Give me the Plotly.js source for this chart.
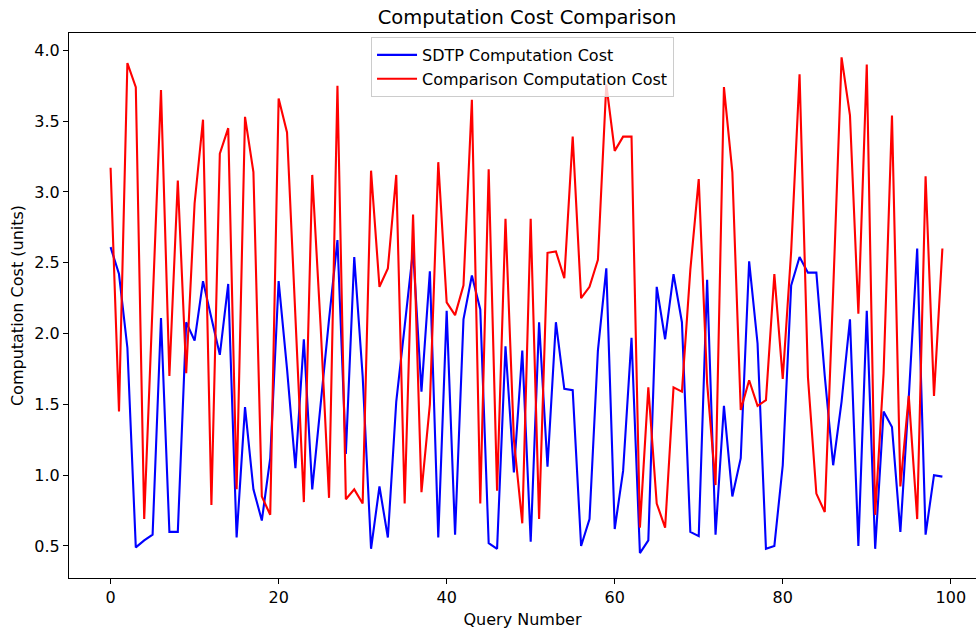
<!DOCTYPE html>
<html>
<head>
<meta charset="utf-8">
<script src="https://cdn.plot.ly/plotly-3.0.1.min.js"></script>
<style>html,body{margin:0;padding:0;background:#fff;}#chart{width:976px;height:629px;}</style>
</head>
<body>
<div id="chart"></div>
<script>
const queryNumbers = Array.from({length: 100}, (_, i) => i);

const sdtpCost = [
  2.61, 2.42, 1.90, 0.49, 0.54, 0.58, 2.11, 0.60, 0.60, 2.08,
  1.95, 2.37, 2.11, 1.85, 2.35, 0.56, 1.48, 0.90, 0.68, 1.12,
  2.37, 1.75, 1.05, 1.96, 0.90, 1.52, 2.10, 2.66, 1.15, 2.54,
  1.70, 0.48, 0.92, 0.56, 1.52, 2.05, 2.59, 1.59, 2.44, 0.56,
  2.16, 0.58, 2.10, 2.41, 2.17, 0.52, 0.48, 1.91, 1.02, 1.88,
  0.53, 2.08, 1.06, 2.08, 1.61, 1.60, 0.50, 0.69, 1.88, 2.46,
  0.62, 1.03, 1.97, 0.45, 0.54, 2.33, 1.96, 2.42, 2.08, 0.60,
  0.57, 2.38, 0.58, 1.49, 0.85, 1.12, 2.51, 1.93, 0.48, 0.50,
  1.07, 2.34, 2.54, 2.43, 2.43, 1.70, 1.07, 1.52, 2.10, 0.50,
  2.16, 0.48, 1.45, 1.34, 0.60, 1.55, 2.60, 0.58, 1.00, 0.99
];

const comparisonCost = [
  3.17, 1.45, 3.91, 3.74, 0.69, 2.22, 3.72, 1.70, 3.08, 1.72,
  2.92, 3.51, 0.79, 3.27, 3.45, 0.90, 3.53, 3.14, 0.85, 0.72,
  3.66, 3.42, 2.15, 0.81, 3.12, 2.05, 0.84, 3.75, 0.83, 0.90,
  0.80, 3.15, 2.33, 2.46, 3.12, 0.80, 2.84, 0.88, 1.50, 3.21,
  2.22, 2.13, 2.34, 3.65, 0.80, 3.16, 0.89, 2.81, 1.25, 0.66,
  2.81, 0.69, 2.57, 2.58, 2.39, 3.39, 2.25, 2.33, 2.52, 3.76,
  3.29, 3.39, 3.39, 0.63, 1.62, 0.80, 0.63, 1.62, 1.59, 2.45,
  3.09, 1.65, 0.93, 3.74, 3.14, 1.46, 1.67, 1.49, 1.53, 2.42,
  1.68, 2.58, 3.83, 1.69, 0.87, 0.74, 2.30, 3.95, 3.54, 2.14,
  3.90, 0.72, 1.72, 3.54, 0.92, 1.56, 0.69, 3.11, 1.56, 2.60
];

const seriesNames = ["SDTP Computation Cost", "Comparison Computation Cost"];
const seriesColors = ["#0000ff", "#ff0000"];
const yTicks = [0.5, 1.0, 1.5, 2.0, 2.5, 3.0, 3.5, 4.0];
const xTicks = [0, 20, 40, 60, 80, 100];

const FONT = "DejaVu Sans, sans-serif";
const FS = 16;

const traces = [sdtpCost, comparisonCost].map((vals, k) => ({
  x: queryNumbers,
  y: vals,
  type: "scatter",
  mode: "lines",
  name: seriesNames[k],
  line: {color: seriesColors[k], width: 2.1}
}));

const layout = {
  width: 976,
  height: 629,
  margin: {l: 69, r: 0, t: 33, b: 51},
  paper_bgcolor: "#ffffff",
  plot_bgcolor: "#ffffff",
  font: {family: FONT, size: FS, color: "#000"},
  title: {text: "Computation Cost Comparison", font: {family: FONT, size: 19.5, color: "#000"},
          x: 0.54, xanchor: "center", y: 0.972, yanchor: "middle"},
  xaxis: {
    range: [-4.95, 103.0],
    tickvals: xTicks,
    ticktext: xTicks.map(String),
    ticks: "outside", ticklen: 5, tickwidth: 1, tickcolor: "#000",
    showgrid: false, zeroline: false,
    showline: true, linecolor: "#000", linewidth: 1, mirror: true,
    tickfont: {family: FONT, size: FS, color: "#000"},
    title: {text: "Query Number", font: {family: FONT, size: FS, color: "#000"}, standoff: 7}
  },
  yaxis: {
    range: [0.274, 4.122],
    tickvals: yTicks,
    ticktext: yTicks.map(v => v.toFixed(1)),
    ticks: "outside", ticklen: 5, tickwidth: 1, tickcolor: "#000",
    showgrid: false, zeroline: false,
    showline: true, linecolor: "#000", linewidth: 1, mirror: false,
    tickfont: {family: FONT, size: FS, color: "#000"},
    title: {text: "Computation Cost (units)", font: {family: FONT, size: FS, color: "#000"}, standoff: 6}
  },
  showlegend: true,
  legend: {
    x: 0.333, xanchor: "left", y: 0.9927, yanchor: "top",
    bgcolor: "rgba(255,255,255,0.8)", bordercolor: "#cccccc", borderwidth: 1,
    font: {family: FONT, size: FS, color: "#000"},
    itemwidth: 40,
    tracegroupgap: 0
  }
};

Plotly.newPlot("chart", traces, layout, {staticPlot: true, displayModeBar: false});
</script>
</body>
</html>
